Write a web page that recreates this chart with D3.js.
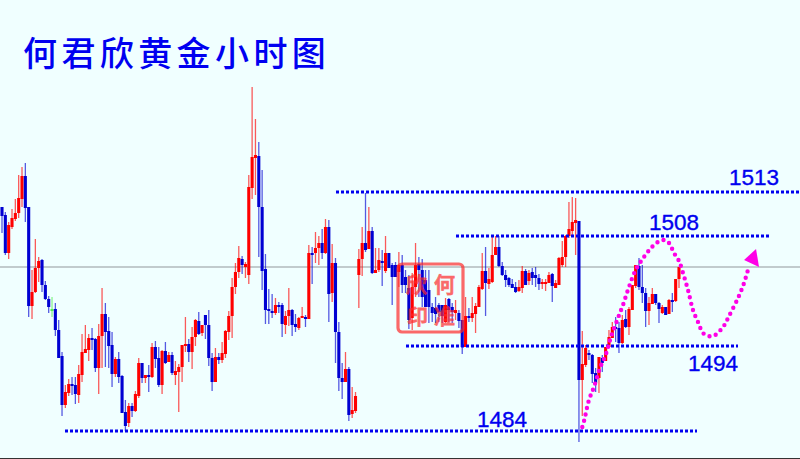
<!DOCTYPE html>
<html><head><meta charset="utf-8">
<script src="https://cdn.jsdelivr.net/npm/d3@7/dist/d3.min.js"></script>
<style>html,body{margin:0;padding:0;background:#f0ffff;overflow:hidden}svg{display:block}</style>
</head><body><svg id="c" width="800" height="459"></svg>
<script>
const titleText = "何君欣黄金小时图";
const sealChars = ["何","欣","印","准"];
// Candle values, in ticks above the 1484 level
const highs = [224,219,209,222,232,256,264,268,224,161,192,174,172,150,135,134,128,111,79,46,52,54,54,66,97,106,97,103,93,107,143,128,114,99,74,79,56,31,28,28,40,73,68,56,66,88,90,84,81,89,79,79,70,67,86,114,92,104,112,119,106,116,121,78,83,78,89,101,120,153,168,185,175,169,256,344,312,289,261,177,142,137,133,129,128,120,143,122,117,114,124,116,186,184,199,195,202,212,211,187,173,109,68,79,64,44,39,182,204,238,224,204,183,183,181,195,178,168,169,179,176,161,156,158,188,174,172,161,161,128,134,128,126,133,133,128,131,121,111,134,123,134,128,146,178,184,163,196,195,195,169,161,154,152,149,151,165,162,161,163,164,157,152,152,159,158,151,174,190,196,229,234,233,210,100,86,81,77,63,74,76,84,101,109,114,109,116,121,124,146,166,173,166,143,134,143,137,129,126,124,132,138,152,164];
const opens = [224,216,178,204,212,218,232,255,224,125,139,163,171,146,132,122,122,101,75,26,38,47,46,36,56,78,81,93,92,63,95,117,100,86,57,72,55,19,8,25,20,35,68,53,56,54,84,73,46,80,69,76,56,59,64,85,87,79,94,110,98,116,106,73,49,74,71,77,99,115,144,159,172,164,156,243,273,275,224,162,122,120,118,126,126,106,115,121,107,103,113,114,112,178,178,183,188,178,204,138,168,99,53,49,62,17,20,156,172,188,182,200,158,161,170,160,178,166,166,159,166,154,143,113,144,167,161,151,141,124,123,126,126,109,132,124,118,118,111,84,115,113,117,124,142,160,147,149,176,184,165,156,153,147,144,140,143,160,150,159,156,153,147,147,148,157,143,146,166,174,195,200,208,210,51,66,78,76,58,53,73,70,84,93,104,103,88,112,104,121,145,165,144,138,120,127,137,128,118,124,117,131,130,152];
const closes = [215,178,206,213,218,233,255,223,125,139,163,170,146,132,124,121,101,73,26,39,47,45,37,57,79,82,93,91,63,95,117,99,85,57,72,54,18,5,25,20,37,68,53,56,54,84,72,46,80,68,76,58,60,64,86,87,79,94,111,97,106,106,73,49,74,71,78,100,115,144,159,173,166,167,244,274,276,224,160,121,120,119,126,124,107,115,121,106,104,113,115,113,178,177,183,188,178,204,137,168,99,53,49,62,16,21,35,172,188,181,200,158,161,171,168,178,163,154,154,166,146,146,111,144,166,161,134,124,124,118,117,119,115,126,121,119,121,110,84,115,114,118,125,144,160,148,152,176,184,165,156,151,146,143,139,144,160,146,158,153,153,147,149,149,156,145,148,173,174,195,202,209,211,51,67,83,76,57,48,74,68,84,94,104,102,88,111,104,122,146,166,144,138,120,128,137,128,122,124,116,131,130,152,164];
const lows = [198,176,172,202,210,213,224,209,114,112,138,149,139,131,118,114,95,73,15,23,35,36,27,28,49,78,70,81,59,37,63,64,63,44,54,48,18,0,4,14,19,33,48,48,39,53,63,44,37,67,69,56,46,19,49,79,69,62,85,96,95,92,65,40,49,67,68,73,91,93,137,153,157,153,147,232,236,174,141,107,107,113,116,118,94,97,105,95,99,101,113,104,112,147,168,166,172,177,109,129,68,40,32,49,10,13,18,123,155,179,182,157,158,159,145,158,163,126,154,144,138,138,102,101,134,134,124,124,108,109,108,109,108,108,109,108,111,103,77,84,109,109,98,124,141,115,142,148,176,164,155,144,144,143,138,139,138,146,146,146,144,141,142,140,148,129,143,146,164,164,193,194,176,-11,15,64,71,48,39,38,59,70,83,93,89,78,87,103,96,121,143,141,128,104,106,127,126,108,117,116,117,119,129,143];
const greenCandles = [15];
// Price levels
const levelPrices = [1513,1508,1494,1484];
const pivotPrice = 1504;
// Forecast path: candle index and ticks
const pathIdx  = [174,174.6,176,177.5,179.3,181,182.6,184.7,186.2,188,190,192.5,194.6,196.7,198.5,200,201.5,203,204.2,205.7,207.2,208.7,210.5,213.2,216.2,218,220.7,222.5,224];
const pathTick = [4,11,31,44,63,76,94,113,126,144,161,174,183,189,191,188,178,170,158,141,121,109,97,95,104,115,133,148,165];
const arrowIdx  = [222.5,226.1,227];
const arrowTick = [171,182,164];

const W=800,H=459;
const svg=d3.select("#c");
const x=d3.scaleLinear().domain([0,203]).range([2,679]);
const y=d3.scaleLinear().domain([0,239]).range([431,192]);
const py=d3.scaleLinear().domain([1484,1494,1504,1508,1513]).range([431,346,267,236,192]);
const RED="#ff0000",BLUE="#0000d2",LINE="#0000f0";
svg.append("rect").attr("width",W).attr("height",H).attr("fill","#f0ffff");
svg.append("line").attr("x1",0).attr("x2",W).attr("y1",py(pivotPrice)).attr("y2",py(pivotPrice)).attr("stroke","#b2babd").attr("stroke-width",1.6);
svg.append("line").attr("x1",0).attr("x2",W).attr("y1",458.5).attr("y2",458.5).attr("stroke","#333");

const idx=d3.range(highs.length);
const col=i=>greenCandles.includes(i)?"#55ee55":(closes[i]>=opens[i]?RED:BLUE);
const g=svg.append("g");
g.selectAll("line.w").data(idx).join("line").attr("class","w")
 .attr("x1",x).attr("x2",x).attr("y1",i=>y(highs[i])).attr("y2",i=>y(lows[i]))
 .attr("stroke",col).attr("stroke-width",1.3).attr("stroke-opacity",.65);
g.selectAll("rect.b").data(idx).join("rect").attr("class","b")
 .attr("x",i=>x(i)-1.55).attr("width",3.1)
 .attr("y",i=>y(Math.max(opens[i],closes[i])))
 .attr("height",i=>Math.max(2,Math.abs(y(opens[i])-y(closes[i]))))
 .attr("fill",col);

// Level lines
const levelSpan={1513:[336,800],1508:[456,769],1494:[406,738],1484:[65,697]};
const labelPos={1513:[729,185],1508:[649,230],1494:[688,371],1484:[477,427]};
levelPrices.forEach(p=>{
  svg.append("line").attr("x1",levelSpan[p][0]).attr("x2",levelSpan[p][1]).attr("y1",py(p)).attr("y2",py(p))
    .attr("stroke",LINE).attr("stroke-width",2.8).attr("stroke-dasharray","3 2");
  svg.append("text").attr("x",labelPos[p][0]).attr("y",labelPos[p][1]).text(p)
    .attr("font-family","Liberation Sans").attr("font-size",22.5).attr("fill",LINE)
    .attr("stroke",LINE).attr("stroke-width",.35);
});

// Seal
const seal=svg.append("g").attr("opacity",.7);
seal.append("rect").attr("x",398).attr("y",264).attr("width",65).attr("height",68).attr("rx",4)
  .attr("fill","none").attr("stroke","#ff2a2a").attr("stroke-width",3.2);
[[434,292,0],[406,292,1],[407,324,2],[434,324,3]].forEach(s=>{
  seal.append("text").attr("x",s[0]).attr("y",s[1]).text(sealChars[s[2]])
    .attr("font-family","Noto Sans CJK SC").attr("font-size",21).attr("font-weight",500).attr("fill","#ff2a2a")
    .attr("stroke","#ff2a2a").attr("stroke-width",.8);
});

// Forecast
const lineGen=d3.line().x(i=>x(pathIdx[i])).y(i=>y(pathTick[i])).curve(d3.curveCatmullRom);
svg.append("path").attr("d",lineGen(d3.range(pathIdx.length))).attr("fill","none")
  .attr("stroke","#ff00e6").attr("stroke-width",4.4).attr("stroke-linecap","round").attr("stroke-dasharray","0 6.5");
svg.append("polygon").attr("points",arrowIdx.map((a,i)=>x(a)+","+y(arrowTick[i])).join(" ")).attr("fill","#ff00e6");

// Title
svg.append("text").attr("x",23).attr("y",66).text(titleText)
  .attr("font-family","Noto Sans CJK SC").attr("font-size",34).attr("font-weight",500)
  .attr("letter-spacing",4.4).attr("fill","#0000f0");
</script></body></html>
